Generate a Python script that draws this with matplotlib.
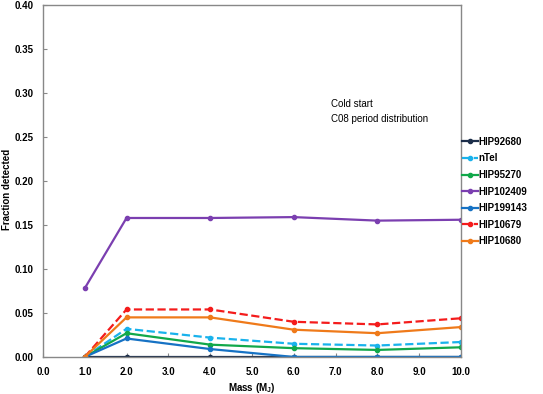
import matplotlib
matplotlib.use("Agg")
import matplotlib.pyplot as plt

# masses (Jupiter masses)
mass = [1.0, 2.0, 4.0, 6.0, 8.0, 10.0]

# fraction detected per star
hip92680 = [0.000, 0.000, 0.000, 0.000, 0.000, 0.000]
ntel = [0.000, 0.032, 0.022, 0.015, 0.013, 0.017]
hip95270 = [0.000, 0.027, 0.014, 0.010, 0.008, 0.011]
hip102409 = [0.078, 0.158, 0.158, 0.159, 0.155, 0.156]
hip199143 = [0.000, 0.021, 0.009, 0.000, 0.000, 0.000]
hip10679 = [0.000, 0.054, 0.054, 0.040, 0.037, 0.044]
hip10680 = [0.000, 0.045, 0.045, 0.031, 0.027, 0.034]

names = ['HIP92680', 'nTel', 'HIP95270', 'HIP102409', 'HIP199143', 'HIP10679', 'HIP10680']
series = [hip92680, ntel, hip95270, hip102409, hip199143, hip10679, hip10680]
colors = ['#1c2e4a', '#19b2ec', '#11a84a', '#7b3fb0', '#1672c4', '#f41c1c', '#ef7a1a']
styles = ['-', '--', '-', '-', '-', '--', '-']

plt.rcParams['font.family'] = ['Liberation Sans', 'DejaVu Sans']

fig = plt.figure(figsize=(5.43, 3.94), dpi=100)
ax = fig.add_axes([0.079, 0.094, 0.770, 0.893])

for y, name, c, ls in zip(series, names, colors, styles):
    ax.plot(mass, y, ls, color=c, marker='o', markersize=3, linewidth=1.6, label=name)

ax.set_xlim(0, 10)
ax.set_ylim(0, 0.40)
ax.set_xticks(range(0, 11))
ax.set_xticklabels(['%.1f' % v for v in range(0, 11)])
yt = [0.0, 0.05, 0.10, 0.15, 0.20, 0.25, 0.30, 0.35, 0.40]
ax.set_yticks(yt)
ax.set_yticklabels(['%.2f' % v for v in yt])
ax.tick_params(direction='in', length=3, color='#888888', labelsize=7, pad=7)
for lab in ax.get_xticklabels() + ax.get_yticklabels():
    lab.set_fontweight('bold')
for sp in ax.spines.values():
    sp.set_color('#888888')
    sp.set_linewidth(1.0)

ax.set_xlabel('Mass (M$_\\mathregular{J}$)', fontsize=7, fontweight='bold', labelpad=3)
ax.set_ylabel('Fraction detected', fontsize=7, fontweight='bold')
ax.yaxis.set_label_coords(-0.074, 0.475)

ax.text(6.9, 0.293, 'Cold start\nC08 period distribution', fontsize=7,
        va='top', ha='left', linespacing=1.55)

ax.legend(loc='center left', bbox_to_anchor=(0.993, 0.47), frameon=False,
          handlelength=1.6, handletextpad=0.1, labelspacing=0.68, borderaxespad=0.0,
          prop={'weight': 'bold', 'size': 7})

fig.savefig('out.png', dpi=100)
